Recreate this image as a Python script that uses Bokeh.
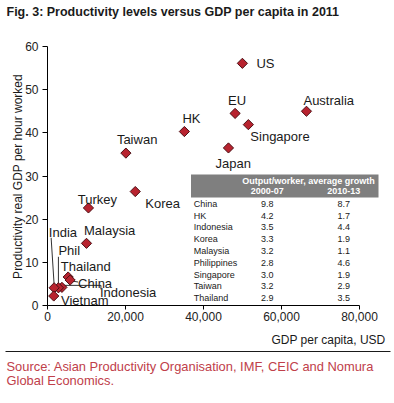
import math
from bokeh.plotting import figure
from bokeh.models import Range1d, FixedTicker, NumeralTickFormatter, ColumnDataSource
from bokeh.core.properties import value
from bokeh.embed import file_html
from bokeh.resources import INLINE

# ---------------- data ----------------
countries = ["US", "EU", "Australia", "Singapore", "Japan", "HK", "Taiwan", "Korea",
             "Turkey", "Malaysia", "Thailand", "China", "Indonesia", "Phil", "India", "Vietnam"]
gdp_per_capita = [49970, 48100, 66400, 51500, 46400, 35100, 20100, 22500,
                  10500, 10000, 5300, 5800, 3700, 2800, 1700, 1600]
productivity = [56.1, 44.5, 45.0, 41.9, 36.5, 40.3, 35.3, 26.4,
                22.6, 14.4, 6.6, 5.9, 4.2, 4.1, 4.1, 2.2]

tbl_countries = ["China", "HK", "Indonesia", "Korea", "Malaysia", "Philippines",
                 "Singapore", "Taiwan", "Thailand"]
growth_2000_07 = [9.8, 4.2, 3.5, 3.3, 3.2, 2.8, 3.0, 3.2, 2.9]
growth_2010_13 = [8.7, 1.7, 4.4, 1.9, 1.1, 4.6, 1.9, 2.9, 3.5]

x_ticks = [0, 20000, 40000, 60000, 80000]
y_ticks = [0, 10, 20, 30, 40, 50, 60]

title_text = "Fig. 3: Productivity levels versus GDP per capita in 2011"
y_title = "Productivity real GDP per hour worked"
x_title = "GDP per capita, USD"
source_lines = ["Source: Asian Productivity Organisation, IMF, CEIC and Nomura",
                "Global Economics."]

# ---------------- layout ----------------
FONT = "Liberation Sans"
W, H = 394, 398
X0_PX, X80_PX = 47, 359          # pixel of x=0 and x=80,000
Y0_PX, Y60_PX = 305, 46          # pixel of y=0 and y=60
PXX = (X80_PX - X0_PX) / 80000
PXY = (Y0_PX - Y60_PX) / 60


def px2x(px):
    return (px - X0_PX) / PXX


def py2y(py):
    return (Y0_PX - py) / PXY


def off(x, y, dx, dy):
    return x + dx / PXX, y - dy / PXY


p = figure(frame_width=W, frame_height=H,
           x_range=Range1d(px2x(0), px2x(W)), y_range=Range1d(py2y(H), py2y(0)),
           output_backend="svg", toolbar_location=None, min_border=0)
p.outline_line_color = None
p.xgrid.visible = False
p.ygrid.visible = False
p.background_fill_color = "white"
p.border_fill_color = "white"

for ax in (p.xaxis[0], p.yaxis[0]):
    ax.fixed_location = 0
    ax.axis_line_color = "black"
    ax.major_tick_line_color = "black"
    ax.major_tick_in = 0
    ax.minor_tick_line_color = None
    ax.major_label_text_font = FONT
    ax.major_label_text_font_size = "12px"
    ax.major_label_text_color = "#222222"

p.xaxis[0].major_tick_out = 4
p.xaxis[0].major_label_standoff = 2
p.yaxis[0].major_tick_out = 5
p.yaxis[0].major_label_standoff = 4
p.xaxis[0].ticker = FixedTicker(ticks=x_ticks)
p.xaxis[0].formatter = NumeralTickFormatter(format="0,0")
p.xaxis[0].bounds = (0, 80000)
p.yaxis[0].ticker = FixedTicker(ticks=y_ticks)
p.yaxis[0].bounds = (0, 60)

# ---------------- table ----------------
TFS = "9px"
tx0, tx1 = px2x(190.5), px2x(378)
p.quad(left=[tx0], right=[tx1], top=[py2y(197)], bottom=[py2y(304)],
       fill_color="white", line_color=None)
p.quad(left=[tx0], right=[tx1], top=[py2y(174)], bottom=[py2y(197)],
       fill_color="#7f7f7f", line_color=None)
c1, c2 = px2x(266.7), px2x(343.3)
p.text(x=[px2x(308)], y=[py2y(180.5)], text=["Output/worker, average growth"],
       text_font=value(FONT), text_font_size=TFS, text_font_style="bold",
       text_color="white", text_align="center", text_baseline="middle")
p.text(x=[c1, c2], y=[py2y(190.5)] * 2, text=["2000-07", "2010-13"],
       text_font=value(FONT), text_font_size=TFS, text_font_style="bold",
       text_color="white", text_align="center", text_baseline="middle")
row_y = [py2y(203.3 + i * 11.8) for i in range(len(tbl_countries))]
p.text(x=[px2x(193.3)] * len(tbl_countries), y=row_y, text=tbl_countries,
       text_font=value(FONT), text_font_size=TFS, text_color="#1a1a1a",
       text_align="left", text_baseline="middle")
p.text(x=[c1] * len(tbl_countries), y=row_y, text=[f"{v:.1f}" for v in growth_2000_07],
       text_font=value(FONT), text_font_size=TFS, text_color="#1a1a1a",
       text_align="center", text_baseline="middle")
p.text(x=[c2] * len(tbl_countries), y=row_y, text=[f"{v:.1f}" for v in growth_2010_13],
       text_font=value(FONT), text_font_size=TFS, text_color="#1a1a1a",
       text_align="center", text_baseline="middle")

# ---------------- leader lines ----------------
idx = {c: i for i, c in enumerate(countries)}
leaders = [("India", (-3, -50), (0, -3)), ("Phil", (0, -31), (0, -3)),
           ("Indonesia", (2, -2), (39, -2)), ("Indonesia", (39, -2), (39, 2)),
           ("China", (2, 1), (8, 2))]
x0s, y0s, x1s, y1s = [], [], [], []
for c, a, b in leaders:
    i = idx[c]
    xa, ya = off(gdp_per_capita[i], productivity[i], *a)
    xb, yb = off(gdp_per_capita[i], productivity[i], *b)
    x0s.append(xa); y0s.append(ya); x1s.append(xb); y1s.append(yb)
p.segment(x0=x0s, y0=y0s, x1=x1s, y1=y1s, line_color="#333333", line_width=1)

# ---------------- points ----------------
src = ColumnDataSource(dict(x=gdp_per_capita, y=productivity, name=countries))
p.scatter("x", "y", source=src, marker="square", angle=math.pi / 4, size=7.2,
          fill_color="#b8232f", line_color="#4d1015", line_width=1)

label_layout = {
    "US": (14, 0, "left"), "EU": (2, -13, "center"), "Australia": (-3, -11, "left"),
    "Singapore": (2, 12, "left"), "Japan": (-13, 16, "left"), "HK": (-2, -13.5, "left"),
    "Taiwan": (-9, -14, "left"), "Korea": (10, 12, "left"), "Turkey": (-10.7, -8, "left"),
    "Malaysia": (-2.5, -13, "left"), "India": (-5.3, -55, "left"), "Phil": (0, -37, "left"),
    "Thailand": (-7.3, -10.7, "left"), "China": (8, 3, "left"),
    "Indonesia": (38, 5.6, "left"), "Vietnam": (7.3, 4, "left"),
}
for align in ("left", "center"):
    xs, ys, ts = [], [], []
    for c, (dx, dy, al) in label_layout.items():
        if al != align:
            continue
        i = idx[c]
        xx, yy = off(gdp_per_capita[i], productivity[i], dx, dy)
        xs.append(xx); ys.append(yy); ts.append(c)
    p.text(x=xs, y=ys, text=ts, text_font=value(FONT), text_font_size="13px",
           text_color="#1a1a1a", text_align=align, text_baseline="middle")

# ---------------- title, axis titles, source ----------------
p.text(x=[px2x(6)], y=[py2y(11)], text=[title_text], text_font=value(FONT),
       text_font_size="12.5px", text_font_style="bold", text_color="#1a1a1a",
       text_align="left", text_baseline="middle")
p.text(x=[px2x(17)], y=[py2y(176)], text=[y_title], angle=math.pi / 2,
       text_font=value(FONT), text_font_size="12px", text_color="#1a1a1a",
       text_align="center", text_baseline="middle")
p.text(x=[px2x(385)], y=[py2y(339)], text=[x_title], text_font=value(FONT),
       text_font_size="12px", text_color="#1a1a1a", text_align="right",
       text_baseline="middle")
p.segment(x0=[px2x(5)], y0=[py2y(351)], x1=[px2x(390)], y1=[py2y(351)],
          line_color="#1a1a1a", line_width=1)
p.text(x=[px2x(6)] * 2, y=[py2y(366), py2y(380)], text=source_lines,
       text_font=value(FONT), text_font_size="12.9px", text_color="#c0404a",
       text_align="left", text_baseline="middle")

open("out.html", "w").write(file_html(p, INLINE))
